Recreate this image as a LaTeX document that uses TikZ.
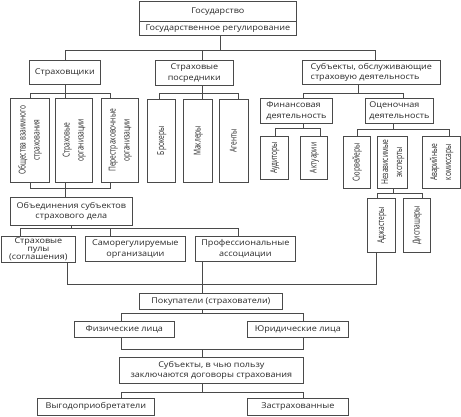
\documentclass[tikz,border=0pt]{standalone}
\usepackage{fontspec}
\setmainfont{Open Sans}
\newfontfamily\hfont[FakeStretch=1.13]{Open Sans}
\newfontfamily\vfont[FakeStretch=0.70]{Open Sans}
\usepackage{graphicx}
\definecolor{linec}{HTML}{4A4A4A}
\definecolor{txt}{HTML}{2A2A2A}
\newcommand{\mybox}[7][]{\node[box,#1,minimum width={(#5-#3)*1pt},minimum height={(#6-#4)*1pt}] (#2) at (#3,#4) {#7};}
\newcommand{\vtx}[1]{\rotatebox{90}{\vfont\fontsize{9.5}{14}\selectfont\begin{tabular}{@{}c@{}}#1\end{tabular}}}
\begin{document}
\begin{tikzpicture}[x=1pt,y=-1pt,
  box/.style={draw=linec, line width=0.7pt, inner sep=0pt, anchor=north west,
    font=\hfont\fontsize{8}{10.5}\selectfont, text=txt, align=center},
  conn/.style={draw=linec, line width=0.7pt}]
\useasboundingbox[fill=white] (0,0) rectangle (461,416);
% top
\mybox{gos}{139}{1}{296}{21}{Государство}
\mybox{reg}{139}{21}{296}{35}{Государственное регулирование}
% level 1
\mybox{strah}{29}{60}{100}{84}{Страховщики}
\mybox{posr}{155}{60}{233}{85}{Страховые\\посредники}
\mybox[align=left]{subj}{302}{60}{440}{84}{Субъекты, обслуживающие\\страховую деятельность}
% insurers' children
\mybox{ovs}{10}{98}{49}{182}{\vtx{Общества взаимного\\страхования}}
\mybox{sorg}{55}{98}{92}{182}{\vtx{Страховые\\организации}}
\mybox{pere}{101}{98}{138}{182}{\vtx{Перестраховочные\\организации}}
% intermediaries' children
\mybox{brok}{147}{99}{175}{182}{\vtx{Брокеры}}
\mybox{makl}{183}{99}{212}{182}{\vtx{Маклеры}}
\mybox{agen}{219}{99}{248}{182}{\vtx{Агенты}}
% servicing subjects
\mybox[align=left]{fin}{260}{98}{332}{123}{Финансовая\\деятельность}
\mybox[align=left]{ocen}{365}{98}{433}{123}{Оценочная\\деятельность}
\mybox{aud}{260}{136}{288}{179}{\vtx{Аудиторы}}
\mybox{akt}{300}{136}{327}{179}{\vtx{Актуарии}}
\mybox{surv}{343}{136}{370}{188}{\vtx{Сюрвейеры}}
\mybox{nez}{377}{136}{407}{188}{\vtx{Независимые\\эксперты}}
\mybox{avar}{422}{136}{460}{188}{\vtx{Аварийные\\комиссары}}
\mybox{adj}{367}{198}{395}{252}{\vtx{Аджастеры}}
\mybox{disp}{403}{198}{430}{252}{\vtx{Диспашеры}}
% associations
\mybox{obj}{10}{197}{132}{225}{Объединения субъектов\\страхового дела}
\mybox[font=\hfont\fontsize{8}{8}\selectfont]{pul}{1}{236}{75}{262}{Страховые\\пулы\\(соглашения)}
\mybox{samo}{85}{236}{185}{261}{Саморегулируемые\\организации}
\mybox{prof}{195}{236}{295}{261}{Профессиональные\\ассоциации}
% buyers
\mybox{pok}{139}{293}{282}{309}{Покупатели (страхователи)}
\mybox{fiz}{74}{321}{174}{337}{Физические лица}
\mybox{yur}{247}{321}{348}{337}{Юридические лица}
\mybox{sub2}{119}{357}{303}{383}{Субъекты, в чью пользу\\заключаются договоры страхования}
\mybox{vyg}{37}{398}{154}{415}{Выгодоприобретатели}
\mybox{zas}{247}{398}{348}{415}{Застрахованные}
\coordinate (spine) at (202,0);
% connectors: state level
\draw[conn] ([xshift=2.5pt]reg.south) -- ++(0,15);
\draw[conn] (strah.north) -- ++(0,-10) -| ([xshift=4pt]subj.north);
\draw[conn] ([xshift=8pt]posr.north) -- ++(0,-10);
% insurers
\draw[conn] (strah.south) -- (strah.south |- sorg.north);
\draw[conn] (ovs.north) -- ++(0,-5) -| ([xshift=-10pt]pere.north);
\draw[conn] (ovs.south) -- ++(0,6) -| ([xshift=-10pt]pere.south);
\draw[conn] (strah.south |- sorg.south) -- (strah.south |- obj.north);
% intermediaries
\draw[conn] ([xshift=-2pt]brok.north) -- ++(0,-6) -| ([xshift=4.5pt]agen.north);
\draw[conn] ([xshift=8pt]posr.south) -- ([xshift=8pt]posr.south |- makl.north);
% servicing
\draw[conn] ([xshift=-13pt]subj.south) -- ++(0,9);
\draw[conn] ([xshift=7pt]fin.north) -- ++(0,-5) -| ([xshift=4pt]ocen.north);
\draw[conn] ([xshift=7pt]fin.south) -- ++(0,5);
\draw[conn] ([xshift=1pt]aud.north) -- ++(0,-8) -| ([xshift=6.5pt]akt.north);
\draw[conn] ([xshift=-6pt]ocen.south) -- ++(0,6);
\draw[conn] (surv.north) -- ++(0,-7) -| ([xshift=8pt]avar.north);
\draw[conn] ([xshift=1pt]nez.south) -- ++(0,5);
\draw[conn] ([xshift=-4pt]adj.north) -- ++(0,-5) -| ([xshift=5.5pt]disp.north);
% associations
\draw[conn] (obj.south) -- ++(0,3.5);
\draw[conn] ([xshift=-18pt]pul.north) -- ++(0,-7.5) -| ([xshift=-7pt]prof.north);
\draw[conn] ([xshift=-25pt]samo.north) -- ++(0,-7.5);
% links to buyers
\draw[conn] ([xshift=-5pt]adj.south) |- ([xshift=29pt]pul.south |- 0,284) -- ([xshift=29pt]pul.south);
\draw[conn] (spine |- prof.south) -- (spine |- pok.north);
% buyers
\draw[conn] (spine |- pok.south) -- ++(0,4);
\draw[conn] ([xshift=-3pt]fiz.north) -- ++(0,-8) -| ([xshift=5.5pt]yur.north);
\draw[conn] ([xshift=-3pt]fiz.south) -- ++(0,12) -| ([xshift=5.5pt]yur.south);
\draw[conn] (spine |- fiz.south) ++(0,12) -- (spine |- sub2.north);
\draw[conn] (spine |- sub2.south) -- ++(0,9);
\draw[conn] ([xshift=25.5pt]vyg.north) -- ++(0,-6) -| ([xshift=5.5pt]zas.north);
\end{tikzpicture}
\end{document}
